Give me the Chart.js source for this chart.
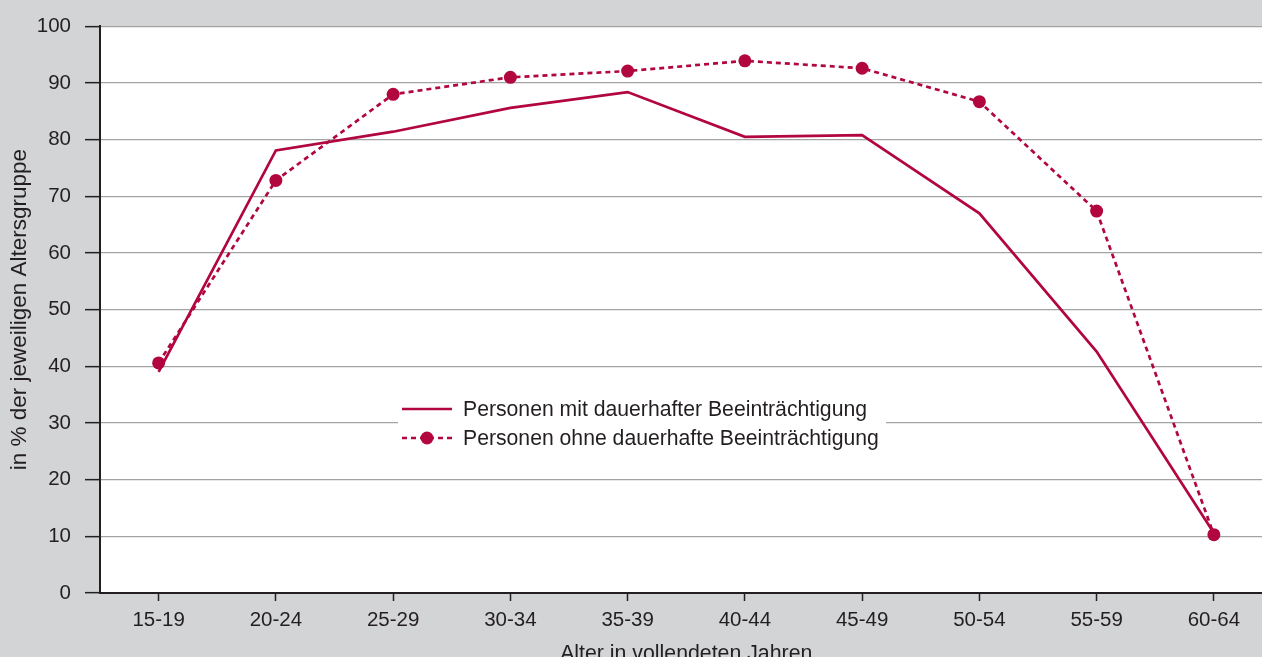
<!DOCTYPE html>
<html>
<head>
<meta charset="utf-8">
<script src="https://cdn.jsdelivr.net/npm/chart.js@4/dist/chart.umd.min.js"></script>
<style>
    html, body { margin: 0; padding: 0; overflow: hidden; background: #d3d4d6; }
    #wrap { width: 1279px; height: 667px; }
</style>
</head>
<body>
<div id="wrap"><canvas id="chart" width="1279" height="667"></canvas></div>
<script>
const ageGroups = ['15-19', '20-24', '25-29', '30-34', '35-39', '40-44', '45-49', '50-54', '55-59', '60-64'];
const withImpairment = [39.0, 78.1, 81.4, 85.6, 88.4, 80.5, 80.8, 67.0, 42.6, 10.6];
const withoutImpairment = [40.6, 72.8, 88.0, 91.0, 92.1, 93.9, 92.6, 86.7, 67.4, 10.3];
const yTicks = [0, 10, 20, 30, 40, 50, 60, 70, 80, 90, 100];

const RED = '#b2063f';
const INK = '#231f20';
const FONT = 'Liberation Sans, Arial, Helvetica, sans-serif';

// legend drawn inside the plot area, on a white box over the grid
const boxLegend = {
    id: 'boxLegend',
    afterDatasetsDraw(chart) {
        const ctx = chart.ctx;
        const x = 398, y = 393, w = 488, h = 60;
        ctx.save();
        ctx.fillStyle = '#ffffff';
        ctx.fillRect(x, y, w, h);
        ctx.font = '21.2px ' + FONT;
        ctx.textBaseline = 'middle';
        chart.data.datasets.forEach((ds, i) => {
            let rowY = 409 + i * 29;
            ctx.strokeStyle = ds.borderColor;
            ctx.lineWidth = ds.borderWidth;
            ctx.setLineDash(ds.borderDash || []);
            ctx.beginPath();
            ctx.moveTo(402, rowY);
            ctx.lineTo(452, rowY);
            ctx.stroke();
            ctx.setLineDash([]);
            if (ds.pointRadius) {
                ctx.fillStyle = ds.pointBackgroundColor;
                ctx.beginPath();
                ctx.arc(427, rowY, ds.pointRadius, 0, Math.PI * 2);
                ctx.fill();
            }
            ctx.fillStyle = INK;
            ctx.fillText(ds.label, 463, rowY + 1);
        });
        ctx.restore();
    }
};

const plotBackground = {
    id: 'plotBackground',
    beforeDraw(chart) {
        const { ctx, chartArea } = chart;
        ctx.save();
        ctx.fillStyle = '#ffffff';
        ctx.fillRect(chartArea.left, chartArea.top, chartArea.right - chartArea.left, chartArea.bottom - chartArea.top);
        ctx.restore();
    }
};

new Chart(document.getElementById('chart'), {
    type: 'line',
    data: {
        labels: ageGroups,
        datasets: [
            {
                label: 'Personen mit dauerhafter Beeinträchtigung',
                data: withImpairment,
                borderColor: RED,
                backgroundColor: RED,
                borderWidth: 2.7,
                pointRadius: 0,
                tension: 0,
                fill: false
            },
            {
                label: 'Personen ohne dauerhafte Beeinträchtigung',
                data: withoutImpairment,
                borderColor: RED,
                backgroundColor: RED,
                pointBackgroundColor: RED,
                pointBorderWidth: 0,
                borderWidth: 2.7,
                borderDash: [5, 4],
                pointRadius: 6.5,
                tension: 0,
                fill: false
            }
        ]
    },
    options: {
        responsive: false,
        animation: false,
        layout: { padding: { top: 26, right: 1, left: 0, bottom: 0 } },
        plugins: {
            legend: { display: false },
            tooltip: { enabled: false }
        },
        scales: {
            x: {
                offset: true,
                afterFit: (scale) => { scale.height = 74; },
                grid: {
                    drawOnChartArea: false,
                    drawTicks: true,
                    tickLength: 8,
                    tickColor: INK,
                    tickWidth: 1.5,
                    offset: false
                },
                border: { display: true, color: INK, width: 2 },
                ticks: { color: INK, font: { family: FONT, size: 20.5 }, padding: 7, maxRotation: 0, autoSkip: false },
                title: {
                    display: true,
                    text: 'Alter in vollendeten Jahren',
                    color: INK,
                    font: { family: FONT, size: 21.3 },
                    padding: { top: 4, bottom: 0 }
                }
            },
            y: {
                min: 0,
                max: 100,
                afterFit: (scale) => { scale.width = 100; },
                afterBuildTicks: (scale) => { scale.ticks = yTicks.map(v => ({ value: v })); },
                grid: {
                    color: '#a3a3a3',
                    lineWidth: 1.3,
                    drawTicks: true,
                    tickLength: 15,
                    tickColor: INK,
                    tickWidth: 1.5
                },
                border: { display: true, color: INK, width: 2 },
                ticks: { color: INK, font: { family: FONT, size: 20.5 }, padding: 14 },
                title: {
                    display: true,
                    text: 'in % der jeweiligen Altersgruppe',
                    color: INK,
                    font: { family: FONT, size: 22.5 },
                    padding: { top: 6, bottom: 0 }
                }
            }
        }
    },
    plugins: [plotBackground, boxLegend]
});
</script>
</body>
</html>
